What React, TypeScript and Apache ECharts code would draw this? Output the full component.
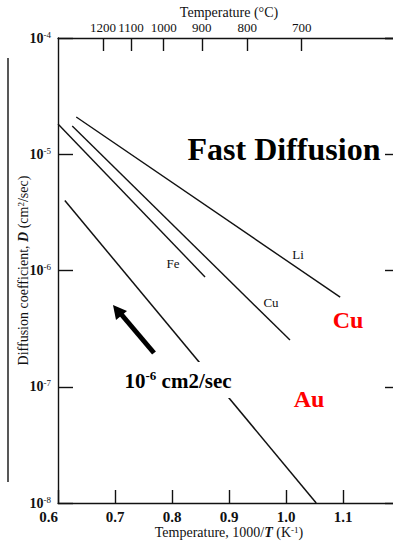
import React, { useEffect, useRef } from "react";
import * as echarts from "echarts";

// Diffusion lines: x = 1000/T (K^-1), D in cm^2/sec
const feX = [0.6, 0.858];
const feD = [1.82e-5, 8.8e-7];
const cuX = [0.625, 1.007];
const cuD = [1.75e-5, 2.52e-7];
const liX = [0.632, 1.095];
const liD = [2.09e-5, 5.9e-7];
const auX = [0.612, 1.053];
const auD = [4.0e-6, 1.0e-8];

// top axis: temperature in Celsius
const tempC = [1200, 1100, 1000, 900, 800, 700];

const SERIF = '"Liberation Serif", "DejaVu Serif", serif';

const pts = (xs: number[], ys: number[]) => xs.map((x, i) => [x, ys[i]]);

export default function App() {
  const ref = useRef<HTMLDivElement>(null);
  useEffect(() => {
    if (!ref.current) return;
    const chart = echarts.init(ref.current, undefined, { renderer: "svg" });
    const lineStyle = { color: "#111", width: 1.4 };
    const mkSeries = (name: string, xs: number[], ys: number[], w = 1.4) => ({
      name,
      type: "line",
      xAxisIndex: 0,
      yAxisIndex: 0,
      data: pts(xs, ys),
      showSymbol: false,
      symbol: "none",
      lineStyle: { ...lineStyle, width: w },
      silent: true,
    });
    const topVals = tempC.map((c) => 1000 / (c + 273.15));
    chart.setOption({
      animation: false,
      backgroundColor: "#fff",
      textStyle: { fontFamily: SERIF, color: "#111" },
      grid: { left: 58, top: 38, width: 342, height: 465, containLabel: false, outerBoundsMode: "none" },
      xAxis: [
        {
          type: "value",
          position: "bottom",
          min: 0.6,
          max: 1.2,
          interval: 0.1,
          axisLine: { show: true, lineStyle: { color: "#111", width: 1.4 } },
          axisTick: { show: true, inside: true, length: 13, lineStyle: { color: "#111", width: 1.4 } },
          splitLine: { show: false },
          axisLabel: {
            show: true,
            margin: 6,
            fontSize: 15,
            fontWeight: "bold",
            fontFamily: SERIF,
            color: "#111",
            alignMinLabel: "right",
            formatter: (v: number) => (v > 1.15 ? "" : v.toFixed(1)),
          },
          name: "Temperature, 1000/{i|T} (K{s|-1})",
          nameLocation: "middle",
          nameGap: 22,
          nameMoveOverlap: false,
          nameTextStyle: {
            fontSize: 14,
            fontFamily: SERIF,
            color: "#111",
            rich: {
              i: { fontSize: 14, fontStyle: "italic", fontWeight: "bold", fontFamily: SERIF, color: "#111" },
              s: { fontSize: 9, verticalAlign: "top", fontFamily: SERIF, color: "#111" },
            },
          },
        },
        {
          type: "value",
          position: "top",
          min: 0.6,
          max: 1.2,
          axisLine: { show: true, lineStyle: { color: "#111", width: 1.4 } },
          axisTick: {
            show: true,
            inside: true,
            length: 13,
            customValues: topVals,
            lineStyle: { color: "#111", width: 1.4 },
          },
          splitLine: { show: false },
          axisLabel: {
            show: true,
            customValues: topVals,
            margin: 4,
            fontSize: 13,
            fontFamily: SERIF,
            color: "#111",
            hideOverlap: false,
            formatter: (v: number) => String(Math.round((1000 / v - 273.15) / 10) * 10),
          },
          name: "Temperature (°C)",
          nameLocation: "middle",
          nameGap: 19,
          nameMoveOverlap: false,
          nameTextStyle: { fontSize: 14, fontFamily: SERIF, color: "#111" },
        },
      ],
      yAxis: [
        {
          type: "log",
          logBase: 10,
          position: "left",
          min: 1e-8,
          max: 1e-4,
          axisLine: { show: true, lineStyle: { color: "#111", width: 1.4 } },
          axisTick: { show: true, inside: true, length: 15, lineStyle: { color: "#111", width: 1.4 } },
          minorTick: { show: false },
          splitLine: { show: false },
          axisLabel: {
            margin: 7,
            fontFamily: SERIF,
            color: "#111",
            formatter: (v: number) => `{b|10}{s|${Math.round(Math.log10(v))}}`,
            rich: {
              b: { fontSize: 14, fontWeight: "bold", fontFamily: SERIF, color: "#111", lineHeight: 16 },
              s: { fontSize: 9, verticalAlign: "top", fontFamily: SERIF, color: "#111", lineHeight: 10 },
            },
          },
          name: "Diffusion coefficient, {d|D} (cm{s|2}/sec)",
          nameLocation: "middle",
          nameRotate: 90,
          nameGap: 28,
          nameMoveOverlap: false,
          nameTextStyle: {
            fontSize: 14,
            fontFamily: SERIF,
            color: "#111",
            rich: {
              d: { fontSize: 14, fontStyle: "italic", fontWeight: "bold", fontFamily: SERIF, color: "#111" },
              s: { fontSize: 9, verticalAlign: "top", fontFamily: SERIF, color: "#111" },
            },
          },
        },
        {
          type: "log",
          logBase: 10,
          position: "right",
          min: 1e-8,
          max: 1e-4,
          axisLine: { show: true, lineStyle: { color: "#111", width: 1.4 } },
          axisTick: { show: true, inside: true, length: 15, lineStyle: { color: "#111", width: 1.4 } },
          splitLine: { show: false },
          axisLabel: { show: false },
        },
      ],
      series: [
        mkSeries("Fe", feX, feD),
        mkSeries("Cu", cuX, cuD),
        mkSeries("Li", liX, liD),
        mkSeries("Au", auX, auD, 1.5),
      ],
      graphic: [
        {
          type: "line",
          z: 100,
          shape: { x1: 8, y1: 58, x2: 8, y2: 482 },
          style: { stroke: "#111", lineWidth: 1.4 },
        },
        {
          type: "line",
          z: 100,
          shape: { x1: 154, y1: 353, x2: 121, y2: 314 },
          style: { stroke: "#000", lineWidth: 5 },
        },
        {
          type: "polygon",
          z: 100,
          shape: { points: [[113, 305], [127, 311], [116, 320]] },
          style: { fill: "#000" },
        },
        {
          type: "text",
          z: 100,
          x: 284,
          y: 149,
          style: {
            text: "Fast Diffusion",
            font: `bold 32px ${SERIF}`,
            fill: "#000",
            align: "center",
            verticalAlign: "middle",
          },
        },
        {
          type: "text",
          z: 100,
          x: 348,
          y: 320,
          style: { text: "Cu", font: `bold 24px ${SERIF}`, fill: "#ff0000", align: "center", verticalAlign: "middle" },
        },
        {
          type: "text",
          z: 100,
          x: 309,
          y: 399,
          style: { text: "Au", font: `bold 24px ${SERIF}`, fill: "#ff0000", align: "center", verticalAlign: "middle" },
        },
        {
          type: "text",
          z: 100,
          x: 178,
          y: 380,
          style: {
            text: "{b|10}{s|-6}{b| cm2/sec}",
            align: "center",
            verticalAlign: "middle",
            backgroundColor: "#fff",
            padding: [7, 3, 5, 3],
            rich: {
              b: { fontSize: 21, fontWeight: "bold", fontFamily: SERIF, fill: "#000", lineHeight: 24 },
              s: { fontSize: 13, fontWeight: "bold", fontFamily: SERIF, fill: "#000", verticalAlign: "top", lineHeight: 14 },
            },
          },
        },
        {
          type: "text",
          z: 100,
          x: 173,
          y: 263,
          style: { text: "Fe", font: `13px ${SERIF}`, fill: "#111", align: "center", verticalAlign: "middle" },
        },
        {
          type: "text",
          z: 100,
          x: 298,
          y: 254,
          style: { text: "Li", font: `13px ${SERIF}`, fill: "#111", align: "center", verticalAlign: "middle" },
        },
        {
          type: "text",
          z: 100,
          x: 271,
          y: 302,
          style: { text: "Cu", font: `13px ${SERIF}`, fill: "#111", align: "center", verticalAlign: "middle" },
        },
      ],
    });
    return () => chart.dispose();
  }, []);
  return (
    <div
      style={{
        position: "absolute",
        left: 0,
        top: 0,
        width: 393,
        height: 542,
        overflow: "hidden",
        background: "#fff",
      }}
    >
      <div ref={ref} style={{ width: 410, height: 542 }} />
    </div>
  );
}
